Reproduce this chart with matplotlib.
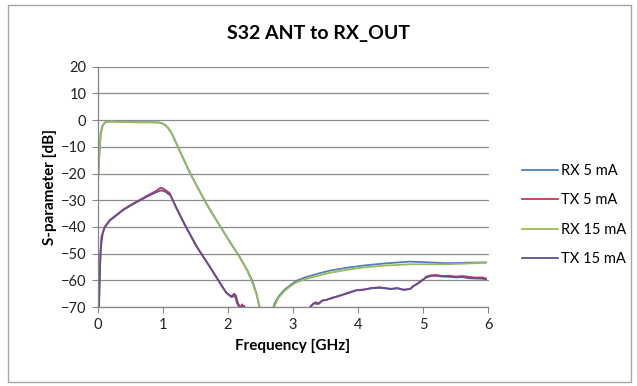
import matplotlib
matplotlib.use('Agg')
import matplotlib.pyplot as plt
import matplotlib.patches as mpatches

# ── Data (frequency in GHz, S32 in dB) ───────────────────────────────────────
rx5_f = [0.0, 0.01, 0.03, 0.05, 0.08, 0.12, 0.2, 0.4, 0.6, 0.8, 0.95, 1.02,
         1.08, 1.15, 1.21, 1.3, 1.42, 1.55, 1.67, 1.8, 1.92, 2.05, 2.18, 2.3,
         2.38, 2.44, 2.49, 2.55, 2.62, 2.68, 2.72, 2.78, 2.87, 2.95, 3.05,
         3.2, 3.4, 3.56, 3.8, 4.07, 4.4, 4.79, 5.0, 5.35, 5.7, 5.96]
rx5_db = [-26, -22, -12, -5, -2, -0.8, -0.5, -0.7, -0.8, -0.8, -0.9, -1.5,
          -2.8, -5.5, -8.7, -13.5, -19.8, -25.8, -31.2, -36.5, -41.2, -46.3,
          -51.2, -56.3, -60.5, -65, -70.5, -80, -78, -71.5, -68.5, -66,
          -63.5, -62, -60.2, -58.8, -57.4, -56.4, -55.4, -54.5, -53.7, -53.0,
          -53.2, -53.6, -53.4, -53.3]

rx15_f = [0.0, 0.01, 0.03, 0.05, 0.08, 0.12, 0.2, 0.4, 0.6, 0.8, 0.95, 1.02,
          1.08, 1.15, 1.21, 1.3, 1.42, 1.55, 1.67, 1.8, 1.92, 2.05, 2.18, 2.3,
          2.38, 2.45, 2.52, 2.6, 2.66, 2.72, 2.78, 2.87, 2.95, 3.05, 3.2, 3.4,
          3.56, 3.8, 4.07, 4.4, 4.79, 5.0, 5.35, 5.7, 5.96]
rx15_db = [-25, -21, -11, -4.5, -1.8, -0.7, -0.5, -0.7, -0.8, -0.8, -0.9, -1.5,
           -2.8, -5.5, -8.8, -13.6, -19.9, -25.9, -31.3, -36.6, -41.3, -46.4,
           -51.3, -56.5, -61, -66, -74, -82, -74, -69.5, -66.5, -64, -62.4,
           -60.8, -59.5, -58.2, -57.2, -56.2, -55.2, -54.5, -54.0, -54.0,
           -54.0, -53.7, -53.4]

tx5_f = [0.0, 0.015, 0.03, 0.045, 0.06, 0.11, 0.19, 0.29, 0.4, 0.55, 0.75,
         0.9, 0.97, 1.02, 1.11, 1.21, 1.34, 1.52, 1.72, 1.88, 1.97, 2.05,
         2.1, 2.14, 2.18, 2.22, 2.3, 3.2, 3.26, 3.3, 3.35, 3.4, 3.45, 3.51,
         3.6, 3.7, 3.8, 3.97, 4.1, 4.2, 4.33, 4.5, 4.6, 4.7, 4.8, 4.84, 4.9,
         5.0, 5.04, 5.1, 5.19, 5.3, 5.4, 5.5, 5.6, 5.7, 5.8, 5.9, 5.96]
tx5_db = [-49, -80, -62, -50, -43.7, -40, -37.4, -35.5, -33.4, -31.2, -28.5,
          -26.5, -25.3, -25.8, -27.4, -33, -39.3, -47.4, -54.9, -61.1, -64.5,
          -66, -65, -68.5, -70.5, -69, -80, -80, -70, -69, -68.2, -68.8,
          -67.5, -67.4, -66.5, -66, -65, -63.7, -63.4, -62.9, -62.6, -63.2,
          -62.9, -63.5, -63.3, -62.2, -61.5, -59.8, -58.7, -58.2, -58.0,
          -58.4, -58.3, -58.6, -58.4, -58.7, -59.0, -58.9, -59.3]

tx15_f = [0.0, 0.02, 0.035, 0.05, 0.08, 0.11, 0.19, 0.29, 0.4, 0.55, 0.75,
          0.9, 0.98, 1.04, 1.12, 1.22, 1.35, 1.53, 1.73, 1.89, 1.98, 2.06,
          2.12, 2.16, 2.2, 2.25, 2.32, 3.22, 3.27, 3.32, 3.38, 3.44, 3.51,
          3.6, 3.7, 3.8, 3.97, 4.1, 4.2, 4.33, 4.5, 4.6, 4.7, 4.8, 4.86, 4.92,
          5.0, 5.06, 5.12, 5.19, 5.3, 5.4, 5.5, 5.6, 5.7, 5.8, 5.9, 5.96]
tx15_db = [-80, -72, -58, -48, -42.5, -40.2, -37.6, -35.7, -33.6, -31.4,
           -28.8, -27.0, -26.3, -26.8, -28.2, -33.3, -39.6, -47.6, -55.1,
           -61.3, -64.8, -66.3, -65.5, -68.8, -70.5, -69.5, -80, -80, -70,
           -68.6, -68.9, -67.7, -67.3, -66.7, -65.8, -65.2, -63.8, -63.5,
           -63.0, -62.8, -63.3, -63.0, -63.6, -63.2, -62.0, -61.0, -59.6,
           -58.8, -58.4, -58.3, -58.6, -58.7, -58.9, -58.8, -59.2, -59.3,
           -59.4, -59.6]

series = [("RX 5 mA", rx5_f, rx5_db, "#4F81BD"),
          ("TX 5 mA", tx5_f, tx5_db, "#D0325C"),
          ("RX 15 mA", rx15_f, rx15_db, "#9BBB59"),
          ("TX 15 mA", tx15_f, tx15_db, "#5A5391")]

x_ticks = [0, 1, 2, 3, 4, 5, 6]
y_ticks = [20, 10, 0, -10, -20, -30, -40, -50, -60, -70]

plt.rcParams['font.family'] = ['Lato', 'DejaVu Sans']

fig = plt.figure(figsize=(6.37, 3.86), dpi=100)
ax = fig.add_axes([97.5 / 637, 1 - 307 / 386, 391 / 637, 240.3 / 386])

for label, f, db, col in series:
    ax.plot(f, db, color=col, lw=1.3, label=label)

ax.set_xlim(0, 6)
ax.set_ylim(-70, 20)
ax.set_xticks(x_ticks)
ax.set_yticks(y_ticks)
ax.tick_params(labelsize=10.5, colors='#868686', labelcolor='#222222',
               length=4, width=0.8, pad=4)
ax.yaxis.grid(True, color='#8C8C8C', lw=0.9)
ax.set_axisbelow(True)
for s in ['top', 'right']:
    ax.spines[s].set_visible(False)
for s in ['left', 'bottom']:
    ax.spines[s].set_color('#868686')
    ax.spines[s].set_linewidth(0.9)

ax.set_xlabel("Frequency [GHz]", fontsize=11, fontweight='bold', labelpad=5)
ax.set_ylabel("S-parameter [dB]", fontsize=11, fontweight='bold', labelpad=3)
fig.text(0.5, 1 - 33 / 386, "S32 ANT to RX_OUT", fontsize=14,
         fontweight='bold', ha='center', va='center')

ax.legend(loc='upper left', bbox_to_anchor=(522 / 637, 1 - 164 / 386),
          bbox_transform=fig.transFigure, frameon=False, fontsize=10.5,
          handlelength=2.5, handletextpad=0.2, labelspacing=1.05,
          borderpad=0, borderaxespad=0)

# thin frame around the whole chart, as in the spreadsheet export
fig.patches.append(mpatches.Rectangle((8 / 637, 4 / 386), 623 / 637, 377 / 386,
                                      transform=fig.transFigure, fill=False,
                                      edgecolor='#A6A6A6', lw=1.0))

plt.savefig("out.png", dpi=100)
plt.close()
